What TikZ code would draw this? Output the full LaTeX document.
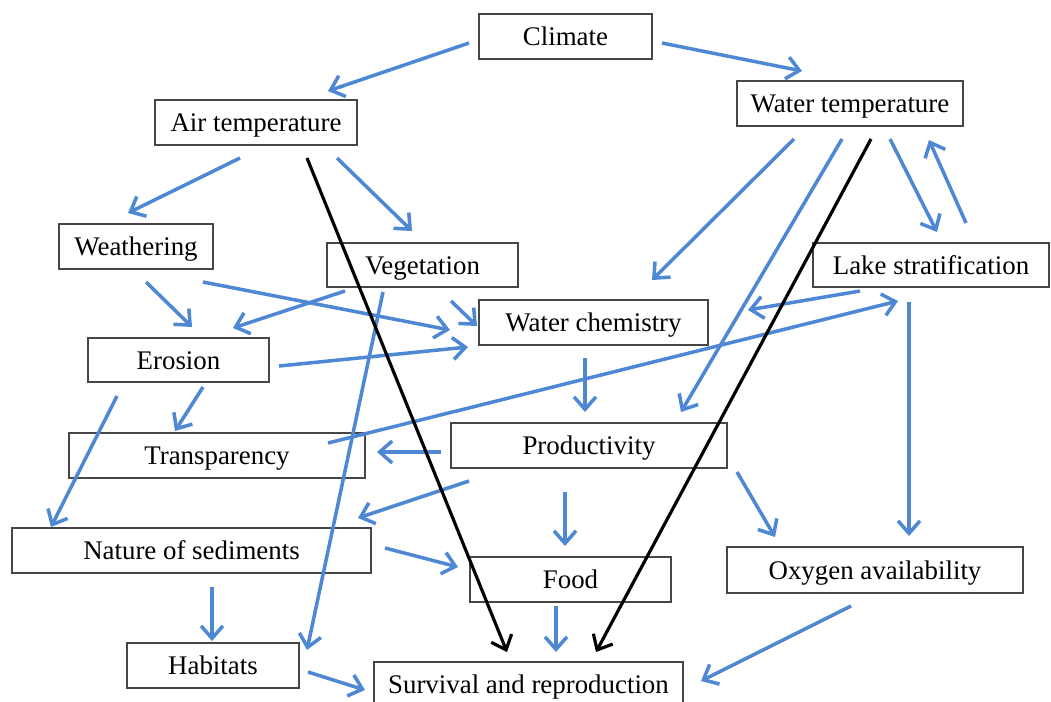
\documentclass[tikz,border=0pt]{standalone}
\usepackage{fontspec}
\setmainfont{Liberation Serif}
\usetikzlibrary{arrows.meta}
\definecolor{linkblue}{RGB}{78,136,212}
\definecolor{boxgray}{RGB}{70,70,70}
\tikzset{
  box/.style={draw=boxgray, line width=0.9pt, fill=white, inner sep=0pt,
    text height=14pt, text depth=3.5pt,
    font=\fontsize{15.3}{18}\selectfont},
  conn/.style={draw=linkblue, line width=2pt,
    -{Straight Barb[length=2.5mm,width=4.4mm,line width=2pt]}},
  mainarrow/.style={draw=black, line width=1.8pt,
    -{Straight Barb[length=2.5mm,width=4.4mm,line width=1.8pt]}}
}
\newcommand{\bx}[6]{\node[box, minimum width=#4*0.02cm, minimum height=#5*0.02cm] (#1) at (#2,#3) {#6};}
\begin{document}
\begin{tikzpicture}[x=0.02cm,y=-0.02cm]
\useasboundingbox (0,0) rectangle (1051,701);
% boxes
\bx{clim}{565.5}{36.5}{173}{45}{Climate}
\bx{air}{256}{122.5}{202}{45}{Air temperature}
\bx{wt}{850}{103.5}{226}{45}{Water temperature}
\bx{weath}{136}{246.5}{154}{45}{Weathering}
\bx{veg}{422.5}{265}{191}{44}{Vegetation}
\bx{lake}{931}{265}{236}{44}{Lake stratification}
\bx{wc}{593.5}{322.5}{229}{45}{Water chemistry}
\bx{eros}{178.5}{360}{181}{44}{Erosion}
\bx{transp}{217}{455.5}{296}{45}{Transparency}
\bx{prod}{589}{445.5}{276}{45}{Productivity}
\bx{nat}{191.5}{550.5}{359}{45}{Nature of sediments}
\bx{food}{570.5}{579.5}{201}{45}{Food}
\bx{oxy}{875}{570}{296}{46}{Oxygen availability}
\bx{hab}{213}{665.5}{172}{45}{Habitats}
\bx{surv}{528.5}{684.5}{309}{45}{Survival and reproduction}
% connector end points
\coordinate (c1s) at (469,43);  \coordinate (c1e) at (328,91);
\coordinate (c2s) at (662,43);  \coordinate (c2e) at (802,71);
\coordinate (c3s) at (240,158); \coordinate (c3e) at (128,213);
\coordinate (c4s) at (337,158); \coordinate (c4e) at (412,231);
\coordinate (c5s) at (307,158); \coordinate (c5e) at (507,652);
\coordinate (c6s) at (146,282); \coordinate (c6e) at (192,327);
\coordinate (c7s) at (203,282); \coordinate (c7e) at (450,330);
\coordinate (c8s) at (345,291); \coordinate (c8e) at (233,328);
\coordinate (c9s) at (451,301); \coordinate (c9e) at (477,326);
\coordinate (c10s) at (383,292); \coordinate (c10e) at (307,650);
\coordinate (c11s) at (794,139); \coordinate (c11e) at (652,280);
\coordinate (c12s) at (842,139); \coordinate (c12e) at (681,412);
\coordinate (c13s) at (871,139); \coordinate (c13e) at (596,652);
\coordinate (c14s) at (890,139); \coordinate (c14e) at (937,232);
\coordinate (c15s) at (966,223); \coordinate (c15e) at (929,140);
\coordinate (c16s) at (860,291); \coordinate (c16e) at (748,310);
\coordinate (c17s) at (909,302); \coordinate (c17e) at (909,536);
\coordinate (c18s) at (279,366); \coordinate (c18e) at (468,347);
\coordinate (c19s) at (203,387); \coordinate (c19e) at (175,431);
\coordinate (c20s) at (117,396); \coordinate (c20e) at (51,527);
\coordinate (c21s) at (328,443); \coordinate (c21e) at (898,301);
\coordinate (c22s) at (585,358); \coordinate (c22e) at (585,412);
\coordinate (c23s) at (441,452); \coordinate (c23e) at (377,452);
\coordinate (c24s) at (469,481); \coordinate (c24e) at (358,518);
\coordinate (c25s) at (565,492); \coordinate (c25e) at (565,546);
\coordinate (c26s) at (737,472); \coordinate (c26e) at (775,537);
\coordinate (c27s) at (385,548); \coordinate (c27e) at (458,567);
\coordinate (c28s) at (212,587); \coordinate (c28e) at (212,641);
\coordinate (c29s) at (556,606); \coordinate (c29e) at (556,652);
\coordinate (c30s) at (308,672); \coordinate (c30e) at (365,690);
\coordinate (c31s) at (851,606); \coordinate (c31e) at (701,681);
% blue connectors
\foreach \i in {1,2,3,4,6,7,8,9,10,11,12,14,15,16,17,18,19,20,21,22,23,24,25,26,27,28,29,30,31}
  \draw[conn] (c\i s) -- (c\i e);
% black connectors
\draw[mainarrow] (c5s) -- (c5e);
\draw[mainarrow] (c13s) -- (c13e);
\end{tikzpicture}
\end{document}
